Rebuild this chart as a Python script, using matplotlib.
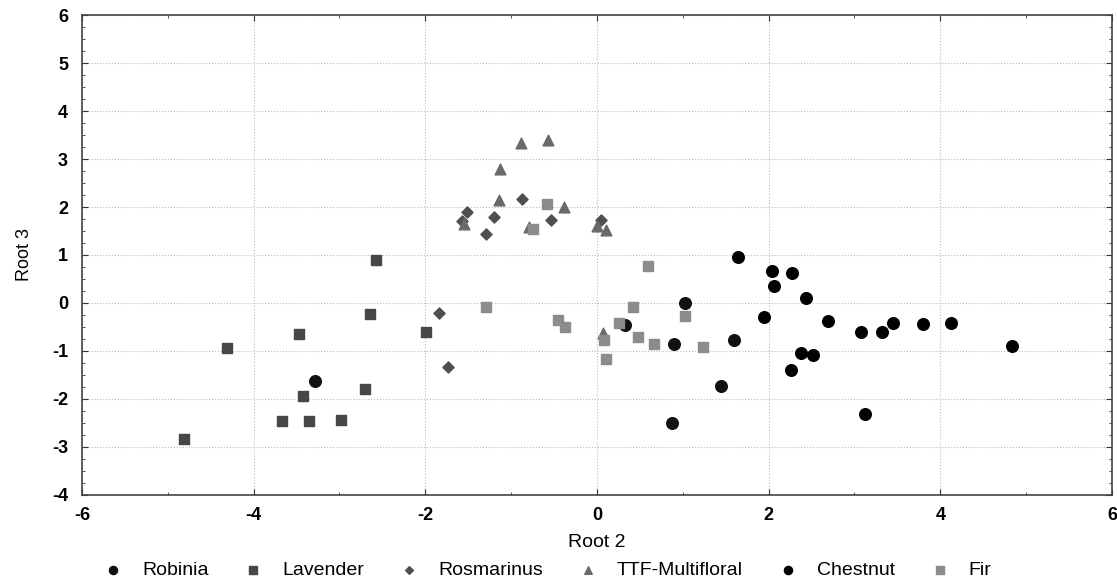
import matplotlib
matplotlib.use("Agg")
import matplotlib.pyplot as plt
from matplotlib.ticker import MultipleLocator

plt.rcParams['font.family'] = ['Liberation Sans', 'DejaVu Sans']
plt.rcParams['axes.unicode_minus'] = False

# data (Root 2, Root 3)
robinia_x = [-3.29, 0.33, 1.02, 0.90, 0.87, 1.45, 1.60]
robinia_y = [-1.63, -0.46, 0.01, -0.86, -2.51, -1.72, -0.77]

lavender_x = [-4.81, -4.31, -3.67, -3.36, -3.42, -3.47, -2.98, -2.70, -2.64, -2.58, -1.99]
lavender_y = [-2.83, -0.93, -2.46, -2.45, -1.93, -0.65, -2.43, -1.79, -0.23, 0.90, -0.61]

rosmarinus_x = [-1.84, -1.74, -1.52, -1.57, -1.20, -1.29, -0.87, -0.54, 0.05]
rosmarinus_y = [-0.21, -1.34, 1.90, 1.70, 1.79, 1.44, 2.17, 1.73, 1.73]

ttf_x = [-0.88, -0.57, -1.13, -1.14, -0.39, -1.55, -0.79, 0.00, 0.11, 0.07]
ttf_y = [3.34, 3.40, 2.80, 2.14, 1.99, 1.65, 1.59, 1.60, 1.52, -0.63]

chestnut_x = [1.64, 2.04, 2.27, 2.06, 2.44, 1.95, 2.69, 3.08, 3.32, 3.45, 3.80, 4.13, 4.83,
              2.38, 2.52, 2.26, 3.12]
chestnut_y = [0.96, 0.67, 0.62, 0.35, 0.10, -0.29, -0.38, -0.61, -0.61, -0.42, -0.44, -0.42, -0.90,
              -1.05, -1.09, -1.40, -2.31]

fir_x = [-0.58, -0.75, -1.29, -0.45, -0.37, 0.59, 0.42, 0.26, 1.02, 0.08, 0.48, 0.67, 1.24, 0.11]
fir_y = [2.07, 1.55, -0.09, -0.36, -0.49, 0.77, -0.08, -0.42, -0.28, -0.77, -0.71, -0.86, -0.91, -1.17]

fig = plt.figure(figsize=(11.17, 5.8), dpi=100)
ax = fig.add_axes([0.0734, 0.1466, 0.9221, 0.8275])

ax.scatter(robinia_x, robinia_y, marker='o', s=70, color='#111111', label='Robinia', zorder=3)
ax.scatter(lavender_x, lavender_y, marker='s', s=60, color='#474747', label='Lavender', zorder=3)
ax.scatter(rosmarinus_x, rosmarinus_y, marker='D', s=32, color='#4f4f4f', label='Rosmarinus', zorder=3)
ax.scatter(ttf_x, ttf_y, marker='^', s=60, color='#6a6a6a', label='TTF-Multifloral', zorder=3)
ax.scatter(chestnut_x, chestnut_y, marker='o', s=70, color='#000000', label='Chestnut', zorder=3)
ax.scatter(fir_x, fir_y, marker='s', s=60, color='#8c8c8c', label='Fir', zorder=3)

ax.set_xlim(-6, 6)
ax.set_ylim(-4, 6)
ax.xaxis.set_major_locator(MultipleLocator(2))
ax.xaxis.set_minor_locator(MultipleLocator(1))
ax.yaxis.set_major_locator(MultipleLocator(1))
ax.yaxis.set_minor_locator(MultipleLocator(0.25))
ax.tick_params(which='both', direction='in', top=True, right=True, color='#333333')
ax.tick_params(which='major', length=4, labelsize=13)
ax.tick_params(which='minor', length=2.5)
ax.tick_params(axis='x', which='major', pad=9)
ax.tick_params(axis='y', which='major', pad=10)
for lab in ax.get_xticklabels() + ax.get_yticklabels():
    lab.set_fontweight('bold')
ax.grid(True, which='major', linestyle=':', color='#bbbbbb', linewidth=0.8)
for sp in ax.spines.values():
    sp.set_color('#444444')
    sp.set_linewidth(1.2)

ax.set_xlabel('Root 2', fontsize=14, labelpad=7)
ax.set_ylabel('Root 3', fontsize=13, labelpad=14)

fig.legend(loc='lower center', bbox_to_anchor=(0.49, -0.028), ncol=6, frameon=False,
           fontsize=14, handlelength=1.0, handletextpad=1.0, columnspacing=1.8,
           markerscale=0.7)

fig.savefig('out.png', dpi=100)
